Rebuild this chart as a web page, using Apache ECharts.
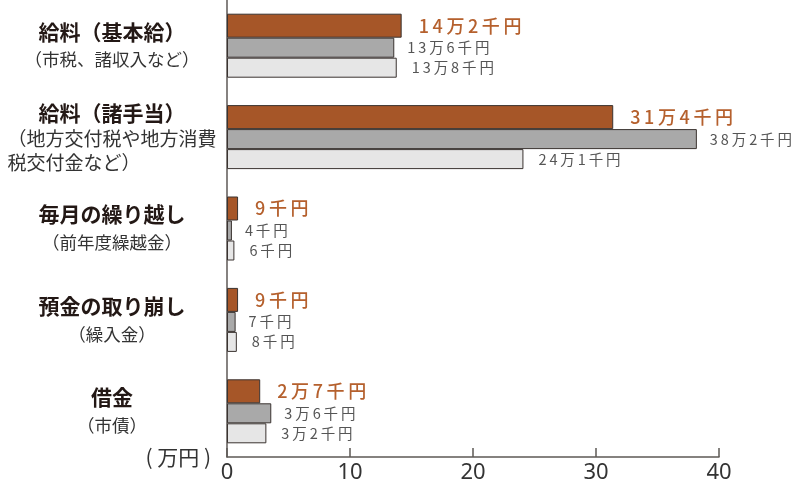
<!DOCTYPE html>
<html>
<head>
<meta charset="utf-8">
<script src="https://cdn.jsdelivr.net/npm/echarts@6/dist/echarts.min.js"></script>
<style>
html,body{margin:0;padding:0;background:#fff;}
#chart{width:795px;height:485px;}
</style>
</head>
<body>
<div id="chart"></div>
<script>
const categories = ['給料（基本給）', '給料（諸手当）', '毎月の繰り越し', '預金の取り崩し', '借金'];
const subLabels = [['（市税、諸収入など）'], ['（地方交付税や地方消費', '税交付金など）'], ['（前年度繰越金）'], ['（繰入金）'], ['（市債）']];
const seriesNames = ['系列1', '系列2', '系列3'];
const valuesA = [14.2, 31.4, 0.9, 0.9, 2.7];
const valuesB = [13.6, 38.2, 0.4, 0.7, 3.6];
const valuesC = [13.8, 24.1, 0.6, 0.8, 3.2];
const labelsA = ['14万2千円', '31万4千円', '9千円', '9千円', '2万7千円'];
const labelsB = ['13万6千円', '38万2千円', '4千円', '7千円', '3万6千円'];
const labelsC = ['13万8千円', '24万1千円', '6千円', '8千円', '3万2千円'];
const xMin = 0, xMax = 40, xStep = 10;
const axisUnit = '( 万円 )';

const CJK = '"Noto Sans CJK JP", "Noto Sans", sans-serif';
const chart = echarts.init(document.getElementById('chart'), null, {renderer: 'canvas'});

// letter-spaced look of the original value labels
const spaced = s => s.split('').join('\u2009');

function catLabel(value, index) {
  const subs = subLabels[index];
  const style = subs.length > 1 ? 's2' : 's';
  return '{t|' + value + '}\n' + subs.map(s => '{' + style + '|' + s + '}').join('\n');
}

function mkSeries(name, values, labels, color, width, labelOpts) {
  return {
    name: name,
    type: 'bar',
    data: values,
    barWidth: width,
    barGap: '0%',
    itemStyle: {color: color, borderColor: '#3a3330', borderWidth: 1},
    label: Object.assign({
      show: true,
      position: 'right',
      fontFamily: CJK,
      formatter: p => spaced(labels[p.dataIndex])
    }, labelOpts),
    emphasis: {disabled: true}
  };
}

chart.setOption({
  animation: false,
  backgroundColor: '#ffffff',
  grid: {left: 227, right: 76, top: -3, bottom: 28, containLabel: false},
  xAxis: {
    type: 'value',
    min: xMin, max: xMax, interval: xStep,
    name: axisUnit,
    nameLocation: 'start',
    nameGap: 16,
    nameTextStyle: {fontSize: 21, color: '#333', fontFamily: CJK, padding: [30, 0, 0, 0]},
    axisLine: {show: true, lineStyle: {color: '#5e5956', width: 1.5}},
    axisTick: {show: true, inside: true, length: 9, lineStyle: {color: '#5e5956', width: 1.5}},
    axisLabel: {fontSize: 22, color: '#333', fontFamily: '"Noto Sans", sans-serif', margin: 5},
    splitLine: {show: false}
  },
  yAxis: {
    type: 'category',
    inverse: true,
    data: categories,
    axisLine: {show: true, lineStyle: {color: '#5e5956', width: 1.5}},
    axisTick: {show: false},
    axisLabel: {
      align: 'center',
      margin: 115,
      formatter: catLabel,
      rich: {
        t: {fontSize: 21, fontWeight: 'bold', color: '#231815', fontFamily: CJK, lineHeight: 28},
        s: {fontSize: 17.5, color: '#333', fontFamily: CJK, lineHeight: 28},
        s2: {fontSize: 19, color: '#333', fontFamily: CJK, lineHeight: 24, align: 'left'}
      }
    }
  },
  series: [
    mkSeries(seriesNames[0], valuesA, labelsA, '#a65628', 24, {fontSize: 18, color: '#b5602d', fontWeight: 500, distance: 17}),
    mkSeries(seriesNames[1], valuesB, labelsB, '#a9a9a9', 20, {fontSize: 14.5, color: '#555', distance: 13}),
    mkSeries(seriesNames[2], valuesC, labelsC, '#e6e6e6', 20, {fontSize: 14.5, color: '#555', distance: 15})
  ]
});
</script>
</body>
</html>
